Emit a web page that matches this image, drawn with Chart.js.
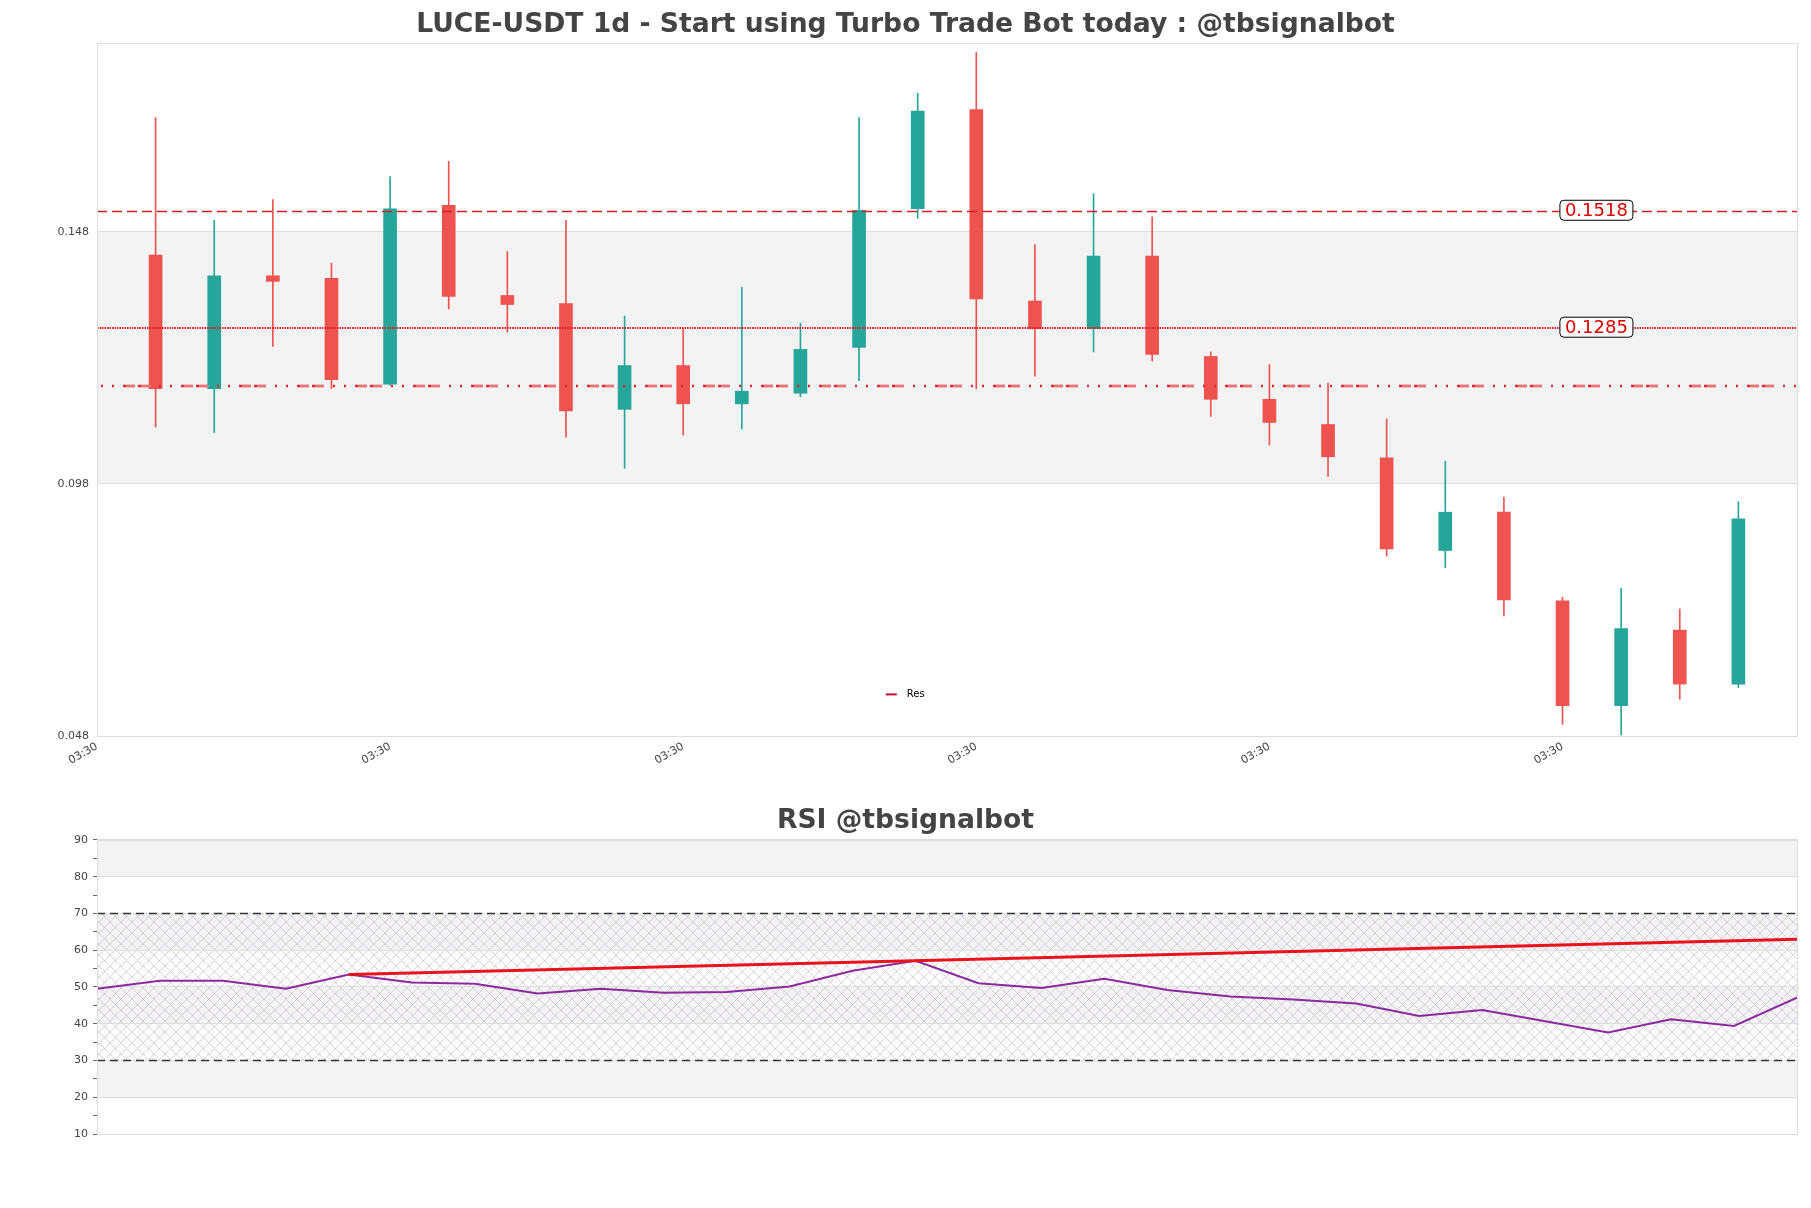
<!DOCTYPE html>
<html>
<head>
<meta charset="utf-8">
<script src="https://cdn.jsdelivr.net/npm/chart.js@4.4.1/dist/chart.umd.min.js"></script>
<style>
    html, body { margin: 0; padding: 0; background: #fff; }
    #price-box { position: absolute; left: 0; top: 0; width: 1811px; height: 790px; }
    #rsi-box { position: absolute; left: 0; top: 790px; width: 1811px; height: 418px; }
</style>
</head>
<body>
<div id="price-box"><canvas id="priceChart"></canvas></div>
<div id="rsi-box"><canvas id="rsiChart"></canvas></div>
<script>
/* Donnees bougies LUCE-USDT 1d */
const candleOpen  = [0.1434, 0.1169, 0.1393, 0.1388, 0.1178, 0.1533, 0.1354, 0.1338, 0.1128, 0.1215, 0.1139, 0.1160, 0.1251, 0.1526, 0.1723, 0.1343, 0.1288, 0.1432, 0.1233, 0.1148, 0.1098, 0.1032, 0.0848, 0.0924, 0.0748, 0.0540, 0.0690, 0.0583];
const candleHigh  = [0.1707, 0.1503, 0.1544, 0.1418, 0.1590, 0.1620, 0.1441, 0.1503, 0.1313, 0.1288, 0.1370, 0.1299, 0.1707, 0.1755, 0.1837, 0.1455, 0.1556, 0.1510, 0.1242, 0.1217, 0.1180, 0.1109, 0.1025, 0.0954, 0.0755, 0.0773, 0.0732, 0.0945];
const candleLow   = [0.1093, 0.1082, 0.1253, 0.1169, 0.1176, 0.1327, 0.1281, 0.1073, 0.1011, 0.1077, 0.1089, 0.1153, 0.1185, 0.1507, 0.1169, 0.1194, 0.1242, 0.1224, 0.1114, 0.1057, 0.0995, 0.0837, 0.0814, 0.0718, 0.0503, 0.0482, 0.0553, 0.0576];
const candleClose = [0.1169, 0.1393, 0.1382, 0.1187, 0.1526, 0.1352, 0.1336, 0.1125, 0.1215, 0.1139, 0.1164, 0.1247, 0.1523, 0.1720, 0.1347, 0.1288, 0.1432, 0.1237, 0.1148, 0.1102, 0.1034, 0.0851, 0.0924, 0.0750, 0.0540, 0.0693, 0.0583, 0.0911];

const priceTicks = [0.048, 0.098, 0.148];
const timeTickPos = [-1, 4, 9, 14, 19, 24];
const timeTickLabels = ['03:30', '03:30', '03:30', '03:30', '03:30', '03:30'];

// niveaux de resistance (position) et leurs etiquettes
const resLevels = [0.1521, 0.1289, 0.1174];
const resLabels = ['0.1518', '0.1285', ''];

/* Donnees RSI */
const rsiValues = [49.5, 51.7, 51.7, 49.5, 53.4, 51.2, 50.9, 48.2, 49.5, 48.4, 48.6, 50.1, 54.4, 57.1, 51.0, 49.7, 52.2, 49.2, 47.4, 46.6, 45.5, 42.1, 43.7, 40.7, 37.6, 41.2, 39.4, 47.1];
const trendX = [4, 27];
const trendY = [53.4, 63.0];
const rsiBands = [[20, 30], [40, 50], [60, 70], [80, 90]];
const rsiLimits = [30, 70];

const UP = '#26a69a';
const DOWN = '#ef5350';
const candleColors = candleOpen.map((o, i) => candleClose[i] >= o ? UP : DOWN);

function boxPath(ctx, x, y, w, h, r) {
    ctx.beginPath();
    ctx.moveTo(x + r, y);
    ctx.lineTo(x + w - r, y);
    ctx.quadraticCurveTo(x + w, y, x + w, y + r);
    ctx.lineTo(x + w, y + h - r);
    ctx.quadraticCurveTo(x + w, y + h, x + w - r, y + h);
    ctx.lineTo(x + r, y + h);
    ctx.quadraticCurveTo(x, y + h, x, y + h - r);
    ctx.lineTo(x, y + r);
    ctx.quadraticCurveTo(x, y, x + r, y);
    ctx.closePath();
}

/* Decor du graphique prix : bande grise, niveaux, legende */
const priceDecor = {
    id: 'priceDecor',
    beforeDraw(chart) {
        const { ctx, chartArea: a, scales: { y } } = chart;
        const top = y.getPixelForValue(priceTicks[2]);
        const bottom = y.getPixelForValue(priceTicks[1]);
        ctx.save();
        ctx.fillStyle = '#f3f3f3';
        ctx.fillRect(a.left, top, a.right - a.left, bottom - top);
        ctx.restore();
    },
    afterDatasetsDraw(chart) {
        const { ctx, chartArea: a, scales: { y } } = chart;
        ctx.save();
        ctx.lineCap = 'butt';

        // 0.1518 tirets
        let py = Math.round(y.getPixelForValue(resLevels[0])) + 0.5;
        ctx.strokeStyle = '#dc1e28';
        ctx.lineWidth = 1.3;
        ctx.setLineDash([10, 5]);
        ctx.beginPath(); ctx.moveTo(a.left, py); ctx.lineTo(a.right, py); ctx.stroke();

        // 0.1285 pointilles
        py = Math.round(y.getPixelForValue(resLevels[1]));
        ctx.lineWidth = 2;
        ctx.setLineDash([1.5, 1]);
        ctx.beginPath(); ctx.moveTo(a.left, py); ctx.lineTo(a.right, py); ctx.stroke();

        // troisieme niveau, motif creux
        py = Math.round(y.getPixelForValue(resLevels[2]));
        ctx.strokeStyle = '#e0262e';
        ctx.lineWidth = 2.6;
        ctx.setLineDash([2, 9, 2, 9, 12, 3, 12, 9]);
        ctx.beginPath(); ctx.moveTo(a.left + 4, py); ctx.lineTo(a.right, py); ctx.stroke();
        ctx.strokeStyle = '#fbeaea';
        ctx.lineWidth = 0.8;
        ctx.setLineDash([0, 24, 10, 5, 10, 9]);
        ctx.lineDashOffset = -1;
        ctx.beginPath(); ctx.moveTo(a.left + 4, py); ctx.lineTo(a.right, py); ctx.stroke();
        ctx.setLineDash([]);
        ctx.lineDashOffset = 0;

        // etiquettes
        ctx.font = '18px "DejaVu Sans"';
        ctx.textAlign = 'center';
        ctx.textBaseline = 'middle';
        const cx = a.left + (a.right - a.left) * 0.882;
        resLabels.forEach((txt, i) => {
            if (!txt) return;
            const ly = y.getPixelForValue(resLevels[i]) - 1;
            const w = ctx.measureText(txt).width + 10;
            boxPath(ctx, cx - w / 2, ly - 10, w, 20, 4);
            ctx.fillStyle = '#fff';
            ctx.fill();
            ctx.strokeStyle = '#000';
            ctx.lineWidth = 1;
            ctx.stroke();
            ctx.fillStyle = '#e00000';
            ctx.fillText(txt, cx, ly + 1);
        });
        ctx.restore();
    },
    afterDraw(chart) {
        const { ctx, chartArea: a } = chart;
        ctx.save();
        ctx.strokeStyle = '#ddd';
        ctx.lineWidth = 1;
        ctx.strokeRect(Math.round(a.left) + 0.5, Math.round(a.top) + 0.5, Math.round(a.right - a.left), Math.round(a.bottom - a.top));

        // legende "Res"
        const lx = a.left + (a.right - a.left) * 0.464;
        const ly = a.top + (a.bottom - a.top) * 0.94;
        ctx.strokeStyle = '#c8102e';
        ctx.lineWidth = 2;
        ctx.beginPath(); ctx.moveTo(lx, ly); ctx.lineTo(lx + 11, ly); ctx.stroke();
        ctx.fillStyle = '#000';
        ctx.font = '10px "DejaVu Sans"';
        ctx.textBaseline = 'middle';
        ctx.fillText('Res', lx + 21, ly);
        ctx.restore();
    }
};

new Chart(document.getElementById('priceChart'), {
    type: 'bar',
    data: {
        datasets: [
            {
                label: 'body',
                data: candleOpen.map((o, i) => ({ x: i, y: [o, candleClose[i]] })),
                backgroundColor: candleColors,
                borderWidth: 0,
                barThickness: 13,
                grouped: false
            },
            {
                label: 'wick',
                data: candleLow.map((l, i) => ({ x: i, y: [l, candleHigh[i]] })),
                backgroundColor: candleColors,
                borderWidth: 0,
                barThickness: 1,
                grouped: false
            }
        ]
    },
    options: {
        responsive: true,
        maintainAspectRatio: false,
        animation: false,
        layout: { padding: { left: 14, right: 14, top: 0, bottom: 0 } },
        plugins: {
            legend: { display: false },
            tooltip: { enabled: false },
            title: {
                display: true,
                text: 'LUCE-USDT 1d - Start using Turbo Trade Bot today : @tbsignalbot',
                color: '#444',
                font: { family: 'DejaVu Sans', size: 26.6, weight: 'bold', lineHeight: 1.2 },
                padding: { top: 9.5, bottom: 1.5 }
            }
        },
        scales: {
            x: {
                type: 'linear',
                min: -1,
                max: 28,
                offset: false,
                grid: { display: false },
                border: { display: false },
                afterBuildTicks: axis => { axis.ticks = timeTickPos.map(v => ({ value: v })); },
                afterFit: axis => { axis.height = 54; },
                ticks: {
                    autoSkip: false,
                    maxRotation: 30,
                    minRotation: 30,
                    padding: -4,
                    color: '#444',
                    font: { family: 'DejaVu Sans', size: 11 },
                    callback: (v, i) => timeTickLabels[i]
                }
            },
            y: {
                min: 0.048,
                max: 0.1855,
                grid: { color: '#ddd', drawTicks: false },
                border: { display: false },
                afterBuildTicks: axis => { axis.ticks = priceTicks.map(v => ({ value: v })); },
                afterFit: axis => { axis.width = 83; },
                ticks: {
                    padding: 8,
                    color: '#444',
                    font: { family: 'DejaVu Sans', size: 11 },
                    callback: v => v.toFixed(3)
                }
            }
        }
    },
    plugins: [priceDecor]
});

/* Motif hachure pour la zone 30-70 */
function hatchPattern(ctx) {
    const tile = document.createElement('canvas');
    tile.width = 11;
    tile.height = 11;
    const t = tile.getContext('2d');
    t.strokeStyle = 'rgba(170,145,190,0.5)';
    t.lineWidth = 0.8;
    t.beginPath();
    t.moveTo(0, 0); t.lineTo(11, 11);
    t.moveTo(11, 0); t.lineTo(0, 11);
    t.stroke();
    return ctx.createPattern(tile, 'repeat');
}

const rsiDecor = {
    id: 'rsiDecor',
    beforeDraw(chart) {
        const { ctx, chartArea: a, scales: { y } } = chart;
        ctx.save();
        ctx.fillStyle = '#f3f3f3';
        rsiBands.forEach(([lo, hi]) => {
            const t = y.getPixelForValue(hi), b = y.getPixelForValue(lo);
            ctx.fillRect(a.left, t, a.right - a.left, b - t);
        });
        const t = y.getPixelForValue(rsiLimits[1]), b = y.getPixelForValue(rsiLimits[0]);
        ctx.fillStyle = hatchPattern(ctx);
        ctx.fillRect(a.left, t, a.right - a.left, b - t);
        ctx.restore();
    },
    beforeDatasetsDraw(chart) {
        const { ctx, chartArea: a, scales: { y } } = chart;
        ctx.save();
        ctx.strokeStyle = '#333';
        ctx.lineWidth = 1.3;
        ctx.setLineDash([8, 5]);
        rsiLimits.forEach(v => {
            const py = Math.round(y.getPixelForValue(v)) + 0.5;
            ctx.beginPath(); ctx.moveTo(a.left, py); ctx.lineTo(a.right, py); ctx.stroke();
        });
        ctx.restore();
    },
    afterDraw(chart) {
        const { ctx, chartArea: a } = chart;
        ctx.save();
        ctx.strokeStyle = '#ddd';
        ctx.lineWidth = 1;
        ctx.strokeRect(Math.round(a.left) + 0.5, Math.round(a.top) + 0.5, Math.round(a.right - a.left), Math.round(a.bottom - a.top));
        ctx.restore();
    }
};

new Chart(document.getElementById('rsiChart'), {
    type: 'line',
    data: {
        datasets: [
            {
                label: 'trend',
                data: trendX.map((x, k) => ({ x: x, y: trendY[k] })),
                borderColor: '#e8141b',
                borderWidth: 3,
                pointRadius: 0
            },
            {
                label: 'RSI',
                data: rsiValues.map((v, i) => ({ x: i, y: v })),
                borderColor: '#8a2a9c',
                borderWidth: 2,
                pointRadius: 0,
                tension: 0
            }
        ]
    },
    options: {
        responsive: true,
        maintainAspectRatio: false,
        animation: false,
        layout: { padding: { left: 14, right: 14, top: 0, bottom: 0 } },
        plugins: {
            legend: { display: false },
            tooltip: { enabled: false },
            title: {
                display: true,
                text: 'RSI @tbsignalbot',
                color: '#444',
                font: { family: 'DejaVu Sans', size: 26.6, weight: 'bold', lineHeight: 1.2 },
                padding: { top: 15, bottom: 3 }
            }
        },
        scales: {
            x: {
                type: 'linear',
                min: 0,
                max: rsiValues.length - 1,
                grid: { display: false },
                border: { display: false },
                ticks: { display: false },
                afterFit: axis => { axis.height = 74; }
            },
            y: {
                min: 10,
                max: 90,
                border: { display: false },
                grid: {
                    color: c => c.tick && c.tick.value % 10 === 0 ? '#ddd' : 'rgba(0,0,0,0)',
                    tickColor: '#666',
                    tickLength: 4
                },
                afterFit: axis => { axis.width = 83; },
                ticks: {
                    stepSize: 5,
                    autoSkip: false,
                    padding: 5,
                    color: '#444',
                    font: { family: 'DejaVu Sans', size: 11 },
                    callback: v => v % 10 === 0 ? v : ''
                }
            }
        }
    },
    plugins: [rsiDecor]
});
</script>
</body>
</html>
